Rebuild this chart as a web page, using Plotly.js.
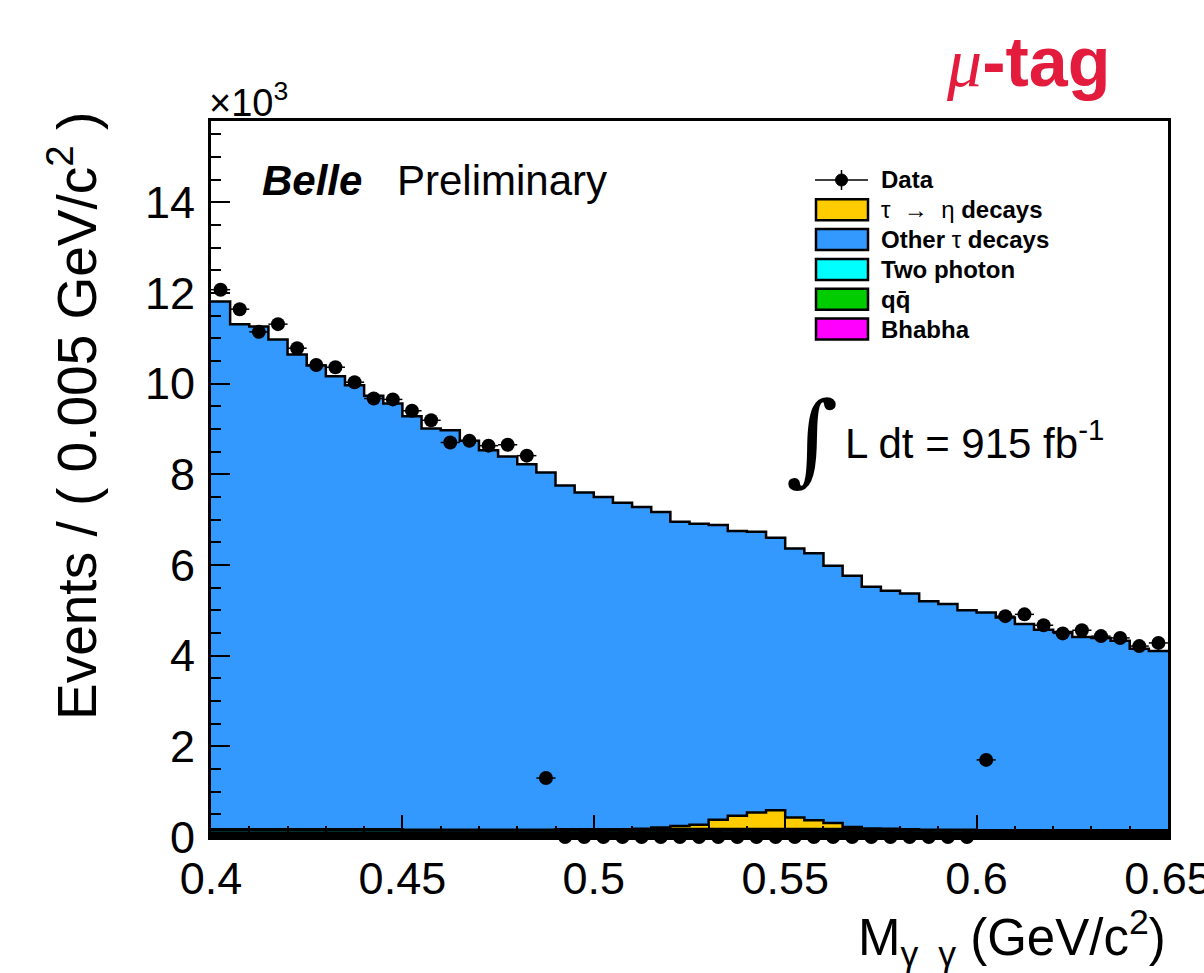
<!DOCTYPE html>
<html><head><meta charset="utf-8">
<script src="https://cdn.plot.ly/plotly-3.0.1.min.js"></script>
<style>html,body{margin:0;padding:0;background:#fff}</style>
</head><body>
<div id="chart" style="width:1204px;height:973px"></div>
<script>
// Histogram binning (GeV/c^2)
const binLow = 0.400;
const binWidth = 0.005;
const nBins = 50;

// Values in units of 10^3 events per bin
const dataCounts = [12.07,11.64,11.14,11.31,10.78,10.41,10.36,10.03,9.67,9.65,
  9.40,9.19,8.70,8.74,8.63,8.65,8.41,1.30,0,0,
  0,0,0,0,0,0,0,0,0,0,
  0,0,0,0,0,0,0,0,0,0,
  1.70,4.87,4.91,4.67,4.49,4.56,4.43,4.39,4.21,4.28];

const otherTau = [11.64,11.14,11.09,10.80,10.47,10.23,9.99,9.79,9.56,9.39,
  9.12,8.85,8.81,8.58,8.37,8.23,8.06,7.88,7.58,7.43,
  7.33,7.20,7.10,6.96,6.71,6.64,6.50,6.28,6.19,6.01,
  5.93,5.89,5.67,5.54,5.33,5.25,5.20,5.04,4.98,4.84,
  4.80,4.69,4.55,4.42,4.37,4.26,4.24,4.18,4.00,3.95];

const tauEta = [0,0,0,0,0,0,0,0,0,0,
  0,0,0,0,0,0,0,0,0.01,0.01,
  0.01,0.01,0.02,0.05,0.08,0.11,0.22,0.31,0.38,0.43,
  0.27,0.21,0.15,0.06,0.03,0.02,0.01,0,0,0,
  0,0,0,0,0,0,0,0,0,0];

const twoPhoton = [0.09,0.09,0.09,0.09,0.09,0.09,0.09,0.09,0.09,0.09,
  0.08,0.08,0.08,0.08,0.08,0.08,0.08,0.08,0.08,0.08,
  0.08,0.08,0.08,0.08,0.08,0.08,0.08,0.08,0.08,0.08,
  0.08,0.08,0.08,0.08,0.08,0.08,0.08,0.08,0.08,0.08,
  0.07,0.07,0.07,0.07,0.07,0.07,0.07,0.07,0.07,0.07];

const qqbar = [0.06,0.06,0.06,0.06,0.06,0.06,0.06,0.06,0.06,0.06,
  0.06,0.06,0.06,0.06,0.06,0.06,0.06,0.06,0.06,0.06,
  0.06,0.06,0.06,0.06,0.06,0.06,0.06,0.06,0.06,0.06,
  0.06,0.06,0.06,0.06,0.06,0.06,0.06,0.06,0.06,0.06,
  0.06,0.06,0.06,0.06,0.06,0.06,0.06,0.06,0.06,0.06];

const bhabha = [0.02,0.02,0.02,0.02,0.02,0.02,0.02,0.02,0.02,0.02,
  0.02,0.02,0.02,0.02,0.02,0.02,0.02,0.02,0.02,0.02,
  0.02,0.02,0.02,0.02,0.02,0.02,0.02,0.02,0.02,0.02,
  0.02,0.02,0.02,0.02,0.02,0.02,0.02,0.02,0.02,0.02,
  0.02,0.02,0.02,0.02,0.02,0.02,0.02,0.02,0.02,0.02];

const xTickVals = [0.4,0.45,0.5,0.55,0.6,0.65];
const xTickText = ['0.4','0.45','0.5','0.55','0.6','0.65'];
const yTickVals = [0,2,4,6,8,10,12,14];
const yTickText = ['0','2','4','6','8','10','12','14'];

const legendLabels = ['Data','<span style="font-weight:normal">τ  →  η</span> decays',
  'Other <span style="font-weight:normal">τ</span> decays','Two photon','qq̄','Bhabha'];
const legendColors = [null,'#ffcc00','#3399ff','#00ffff','#00cc00','#ff00ff'];

// bin geometry from binning definition
const edges = [], centers = [];
for (let i = 0; i <= nBins; i++) edges.push(+(binLow + i*binWidth).toFixed(4));
for (let i = 0; i < nBins; i++) centers.push(+(binLow + (i+0.5)*binWidth).toFixed(5));
const step = a => a.concat([a[a.length-1]]);

const FONT = 'Liberation Sans, Arial, Helvetica, sans-serif';
function stackTrace(vals, color, name, lw) {
  return {type:'scatter', x: edges, y: step(vals), stackgroup:'mc', name: name,
    mode:'lines', line:{shape:'hv', color:'#000', width:lw},
    fillcolor: color, showlegend:false, hoverinfo:'skip'};
}
const traces = [
  stackTrace(bhabha, '#ff00ff', 'Bhabha', 3.5),
  stackTrace(qqbar, '#00cc00', 'qq̄', 4),
  stackTrace(twoPhoton, '#00ffff', 'Two photon', 4),
  stackTrace(tauEta, '#ffcc00', 'τ → η decays', 2.5),
  stackTrace(otherTau, '#3399ff', 'Other τ decays', 2.5),
  {type:'scatter', mode:'markers', x: centers, y: dataCounts, name:'Data',
   marker:{symbol:'circle', size:14, color:'#000'},
   error_x:{type:'constant', value: binWidth/2, width:0, thickness:1.5, color:'#000'},
   cliponaxis:false, showlegend:false}
];

// layout geometry (pixels -> paper)
const L = 211, R = 1168, T = 121, B = 837;
const px = v => (v - L)/(R - L);
const py = v => (B - v)/(B - T);

const shapes = [], annotations = [];
// legend
const legX0 = 815, legX1 = 868, legTextX = 879, legY0 = 180, legDy = 29.8;
legendLabels.forEach((lab, i) => {
  const yc = legY0 + i*legDy;
  if (i === 0) {
    shapes.push({type:'line', xref:'paper', yref:'paper', x0:px(legX0), x1:px(legX1), y0:py(yc), y1:py(yc), line:{color:'#000', width:1.5}});
    shapes.push({type:'line', xref:'paper', yref:'paper', x0:px((legX0+legX1)/2), x1:px((legX0+legX1)/2), y0:py(yc-10), y1:py(yc+10), line:{color:'#000', width:1.5}});
    shapes.push({type:'circle', xref:'paper', yref:'paper', x0:px((legX0+legX1)/2-6), x1:px((legX0+legX1)/2+6), y0:py(yc-6), y1:py(yc+6), fillcolor:'#000', line:{color:'#000', width:1}});
  } else {
    shapes.push({type:'rect', xref:'paper', yref:'paper', x0:px(legX0+1), x1:px(legX1), y0:py(yc-10.5), y1:py(yc+10.5), fillcolor:legendColors[i], line:{color:'#000', width:2.5}});
  }
  annotations.push({xref:'paper', yref:'paper', x:px(legTextX), y:py(yc), xanchor:'left', yanchor:'middle',
    text:'<b>'+lab+'</b>', showarrow:false, font:{family:FONT, size:24, color:'#000'}});
});

// texts
annotations.push({xref:'paper', yref:'paper', x:px(1028), y:py(62), xanchor:'center', yanchor:'middle', showarrow:false,
  text:'<span style="font-family:Liberation Serif, serif;font-weight:normal"><i>μ</i></span><b>-tag</b>', font:{family:FONT, size:70, color:'#e31c3d'}});
annotations.push({xref:'paper', yref:'paper', x:px(207), y:py(100), xanchor:'left', yanchor:'middle', showarrow:false,
  text:'×10<sup>3</sup>', font:{family:FONT, size:38, color:'#000'}});
annotations.push({xref:'paper', yref:'paper', x:px(260), y:py(181), xanchor:'left', yanchor:'middle', showarrow:false,
  text:'<b><i>Belle</i></b>', font:{family:FONT, size:42, color:'#000'}});
annotations.push({xref:'paper', yref:'paper', x:px(395), y:py(181), xanchor:'left', yanchor:'middle', showarrow:false,
  text:'Preliminary', font:{family:FONT, size:42, color:'#000'}});
annotations.push({xref:'paper', yref:'paper', x:px(812), y:py(438), xanchor:'center', yanchor:'middle', showarrow:false,
  text:'∫', font:{family:'DejaVu Serif, Liberation Serif, serif', size:100, color:'#000'}});
annotations.push({xref:'paper', yref:'paper', x:px(843), y:py(440), xanchor:'left', yanchor:'middle', showarrow:false,
  text:'L dt = 915 fb<sup>-1</sup>', font:{family:FONT, size:42, color:'#000'}});
annotations.push({xref:'paper', yref:'paper', x:px(73), y:py(416), xanchor:'center', yanchor:'middle', showarrow:false, textangle:-90,
  text:'Events / ( 0.005 GeV/c<sup>2</sup> )', font:{family:FONT, size:55, color:'#000'}});
annotations.push({xref:'paper', yref:'paper', x:1, y:py(938), xanchor:'right', yanchor:'middle', showarrow:false,
  text:'M<sub>γ  γ</sub> (GeV/c<sup>2</sup>)', font:{family:FONT, size:51, color:'#000'}});

const layout = {
  width:1204, height:973,
  margin:{l:L, r:1204-R, t:T, b:973-B, pad:0},
  paper_bgcolor:'#fff', plot_bgcolor:'#fff',
  showlegend:false,
  xaxis:{range:[binLow, binLow+nBins*binWidth], tickvals:xTickVals, ticktext:xTickText,
    ticks:'inside', ticklen:22, tickwidth:2, tickcolor:'#000',
    minor:{dtick:0.01, ticks:'inside', ticklen:11, tickwidth:2, tickcolor:'#000'},
    showline:true, linecolor:'#000', linewidth:3, mirror:true, showgrid:false, zeroline:false,
    tickfont:{family:FONT, size:45, color:'#000'}, ticklabelstandoff:0, ticklabeloverflow:'allow'},
  yaxis:{range:[0, 15.79], tickvals:yTickVals, ticktext:yTickText,
    ticks:'inside', ticklen:19, tickwidth:2, tickcolor:'#000',
    minor:{dtick:0.5, ticks:'inside', ticklen:10, tickwidth:2, tickcolor:'#000'},
    showline:true, linecolor:'#000', linewidth:3, mirror:true, showgrid:false, zeroline:false,
    tickfont:{family:FONT, size:45, color:'#000'}, ticklabelstandoff:4, ticklabeloverflow:'allow'},
  shapes: shapes,
  annotations: annotations
};
Plotly.newPlot('chart', traces, layout, {displayModeBar:false, staticPlot:true});
</script>
</body></html>
